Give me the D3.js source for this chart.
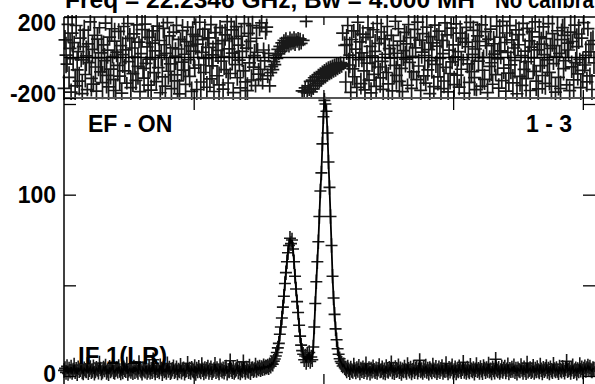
<!DOCTYPE html>
<html><head><meta charset="utf-8">
<script src="https://cdn.jsdelivr.net/npm/d3@7"></script>
<style>
body{margin:0;background:#fff}
svg{display:block;background:#fff}
text{font-family:"Liberation Sans",Arial,Helvetica,sans-serif;font-weight:bold;fill:#000}
</style>
</head><body>
<svg id="chart" width="595" height="384"></svg>
<script>
// ---------------- data ----------------
const ampLeft = [
3.1,4.2,2.0,5.3,1.4,3.8,2.6,4.9,1.9,3.3,
6.1,2.4,3.7,1.2,4.5,2.9,3.4,5.8,2.2,1.7,
4.0,3.2,2.7,6.4,1.8,3.5,4.7,2.3,3.0,5.1,
1.5,2.8,4.3,3.6,2.1,7.2,3.9,1.6,2.5,4.4,
3.3,5.5,2.0,3.1,1.3,4.8,2.7,3.6,6.0,2.4,
1.9,3.4,4.1,2.6,5.2,3.0,1.7,3.8,2.2,4.6,
3.5,2.9,6.6,1.4,3.2,4.0,2.5,3.7,1.8,5.0,
2.3,4.3,3.1,2.0,7.5,3.6,2.8,1.5,4.2,3.3,
2.6,5.4,1.9,3.0,4.7,2.1,3.9,2.4,9.0,3.2,
1.6,4.5,2.9,3.5,2.2,5.7,3.8,1.3,4.1,2.7,
3.4,2.0,6.8,3.1,4.4,1.8,2.5,3.7,5.1,2.3,
3.0,4.6,1.7,3.3,2.8,5.9,2.1,3.6,4.0,1.5,
2.9,3.5,7.0,2.4,3.8,1.9,4.3,3.2,2.6,5.3,
1.4,3.9,2.7,4.8,3.0,2.2,6.3,3.4,1.6,4.1,
2.5,3.7,5.0,2.0,3.3,4.5,1.8,2.9,3.6,6.5,
2.3,4.2,3.1,1.7,5.6,3.5,2.6,4.0,2.1,3.8,
4.9,1.5,3.2,2.8,8.4,3.4,2.4,4.6,1.9,3.0,
3.7,5.2,2.2,4.1,1.6,3.5,2.7,7.8,3.3,2.0,
4.4,3.1,2.5,5.5,1.8,3.9,4.2,2.9,3.6,6.1,
3.0,4.5,3.8,5.0,3.4,4.7,4.0,5.6,4.3,5.1
];
const ampLines = [
4.8,5.5,4.6,6.2,5.4,7.1,6.5,8.2,9.4,11,
13,15.5,18,23,27,32,38,44,51,57,
63,68,72,76,73,75,70,63,55,48,
41,35,28,22,17,14,12,9,11,7.5,
12,9,13,8,10.5,9,16,27,40,52,
63,74,88,102,112,128,143,152,150,146,
134,118,104,88,72,55,43,34,26,20,
15,12,9.5,8,7,5.5,6.2,4.6
];
const ampRight = [
3.9,2.7,5.0,3.4,1.8,4.4,3.1,2.5,6.0,3.6,
2.2,4.1,3.0,5.4,1.7,3.8,2.9,4.6,2.3,3.5,
6.7,2.0,3.3,4.2,1.5,3.9,2.6,5.1,3.2,2.4,
4.0,1.9,3.7,5.8,2.8,3.1,4.5,2.1,3.4,1.6,
5.3,3.0,2.5,4.3,3.6,7.3,2.2,3.8,1.8,4.7,
2.9,3.3,5.6,2.4,4.0,1.4,3.5,2.7,4.9,3.1,
2.0,6.3,3.7,2.6,4.4,1.7,3.2,5.0,2.3,3.9,
4.6,2.1,3.4,8.6,2.8,3.6,1.9,4.2,3.0,5.5,
2.5,3.8,1.5,4.1,3.3,2.2,6.1,3.5,2.7,4.8,
1.8,3.1,4.5,2.4,3.7,5.2,2.0,3.4,2.9,6.9,
3.2,1.6,4.3,2.6,3.9,5.7,2.1,3.0,4.6,1.7,
3.6,2.8,5.1,3.3,2.3,4.0,7.6,2.5,3.8,1.9,
4.4,3.1,2.2,5.9,3.5,2.7,4.2,1.5,3.4,6.4,
2.9,3.7,2.0,4.7,3.2,1.8,5.3,3.9,2.4,4.1,
3.0,6.6,2.6,3.5,1.6,4.5,3.3,2.1,9.2,3.6,
2.8,4.3,1.9,3.1,5.0,2.5,3.8,4.9,2.2,3.4,
6.2,1.7,3.7,2.9,4.4,3.0,5.6,2.3,3.9,1.5,
4.0,3.2,2.7,5.8,3.6,2.0,4.6,3.3,1.8,7.1,
2.6,3.5,4.2,2.4,3.0,5.4,1.9,3.8,2.8,4.7,
3.1,2.2,6.0,3.4,1.6,4.3,2.9,3.7,5.2,2.5,
3.9,1.7,4.5,3.2,2.3,6.5,3.6,2.7,4.1,3.0,
1.8,5.0,3.3,2.6,4.8,3.5,2.1,3.9,8.1,2.9,
3.4,4.4,2.0,3.7,5.7,2.4,3.1,4.0,1.5,3.6,
2.8,6.3,3.2,4.6,2.2,3.8,5.1,3.0,4.2,5.5,
3.6,4.9,3.3,2.7,4.1,3.8
];
const phaseLeft = [
-152,87,12,-33,164,-98,45,-171,120,-6,
73,-140,158,-61,29,-117,96,-12,-178,54,
135,-84,8,-159,67,-25,176,-103,40,-131,
110,-47,-166,91,-2,147,-71,23,-124,62,
-15,170,-88,36,-145,101,-57,142,5,-109,
81,-163,27,-39,129,-92,59,-176,14,153,
-66,38,-127,168,-20,94,-149,47,-80,117,
2,-113,161,-44,76,-169,19,138,-54,-102,
165,-29,52,-136,99,-8,-161,71,131,-75,
33,-119,155,-50,84,-174,11,-96,144,63,
-141,20,172,-68,107,-31,-154,48,125,-86,
7,159,-115,42,-180,90,-23,133,-62,16,
-133,78,150,-11,-93,57,-167,114,31,-52,
104,-158,66,-37,174,-121,25,88,-74,140,
-4,-147,97,50,-106,162,-41,13,-168,123,
69,-90,35,-135,148,-18,83,-156,4,112,
-60,177,-126,43,-79,136,22,-173,93,-35,
152,-100,61,-13,-150,105,30,-66,167,-120,
46,-164,119,-27,80,-111,157,-48,9,-139,
95,26,-82,146,-58,171,-107,37,-17,128
];
const phaseLines = [
150,-90,20,-140,-75,-45,-60,-20,-35,10,
-5,40,18,55,30,72,45,85,52,95,
60,80,55,98,65,88,70,100,62,90,
78,96,64,92,70,-165,85,-170,-150,178,
-175,-140,-160,-118,-170,-112,-155,-100,-140,-95,
-130,-85,-120,-78,-115,-70,-105,-62,-98,-55,
-90,-48,-82,-45,-78,-40,-70,-35,-65,-30,
-58,-28,-52,-25,-45,120,-30,60
];
const phaseRight = [
-121,64,158,-37,12,-172,89,-56,131,-95,
41,-148,174,-10,77,-129,23,115,-66,-160,
99,-28,146,-112,55,-175,8,137,-83,30,
-143,168,-47,70,-101,126,-19,-157,92,16,
-74,153,-130,44,-3,109,-165,60,-39,179,
-88,21,142,-118,81,-54,-169,34,124,-8,
67,-137,163,-24,98,-152,6,-71,139,48,
-109,175,-42,86,-162,27,118,-91,10,-127,
150,-61,39,-178,103,-15,72,-144,160,-34,
56,-96,130,-5,-154,85,19,-116,171,-49,
112,-170,36,-79,145,-22,62,-134,3,166,
-87,29,-146,120,-58,94,-11,-176,76,149,
-31,53,-123,173,-70,15,134,-99,42,-159,
107,-18,80,-141,161,-63,1,-108,128,58,
-173,91,-44,140,-26,-132,68,17,-85,155,
-7,-151,100,33,-114,178,-52,74,-166,121,
25,-77,157,-36,87,-125,47,-14,136,-179,
63,113,-93,9,-138,169,-59,31,-104,144,
-21,82,-163,51,127,-69,-2,176,-117,38,
-155,102,-40,66,-89,151,14,-128,93,-12,
167,-73,45,-142,118,-30,59,-171,5,132,
-98,20,-153,88,148,-55,109,-16,-135,71,
37,-164,125,-46,79,-110,160,-25,54,-81,
116,-9,-149,96,-64,172,-37,11,-120,143,
28,-91,65,-158,84,-27
];
const channelTicks = [128, 256, 384, 512];
const ampTicks = [0, 50, 100, 150];
const ampTickLabels = ["0", "", "100", ""];
const phaseTicks = [-200, 200];
const phaseTickLabels = ["-200", "200"];
const titleText = "Freq = 22.2346 GHz, Bw = 4.000 MH";
const titleText2 = "No calibra";
const baselineText = "EF - ON";
const scanText = "1 - 3";
const ifText = "IF 1(LR)";

// ---------------- build ----------------
const amplitude = ampLeft.concat(ampLines, ampRight);
const phase = phaseLeft.concat(phaseLines, phaseRight);

const W = 595, H = 384;
const L = 64, R = 595;
const pTop = 17, pBot = 98;
const aTop = 98, aBot = 384;

const svg = d3.select("#chart");
svg.append("rect").attr("width", W).attr("height", H).attr("fill", "#fff");

const x = d3.scaleLinear().domain([0, 524]).range([L, R]);
const yP = d3.scaleLinear().domain([-200, 200]).range([pBot, pTop]);
const yA = d3.scaleLinear().domain([0, 150]).range([376, 104]);

const ink = "#000";

// text behind data
svg.append("text").attr("x", 78).attr("y", 364).attr("font-size", 24).text(ifText);
svg.append("text").attr("x", 88).attr("y", 132).attr("font-size", 23).text(baselineText);
svg.append("text").attr("x", 572).attr("y", 132).attr("font-size", 23).attr("text-anchor", "end").text(scanText);

// phase zero line
svg.append("line").attr("x1", L).attr("x2", R).attr("y1", yP(0)).attr("y2", yP(0))
  .attr("stroke", ink).attr("stroke-width", 1.3);

// clip for phase panel
const defs = svg.append("defs");
defs.append("clipPath").attr("id", "clipP").append("rect")
  .attr("x", 0).attr("y", pTop - 2).attr("width", W).attr("height", pBot - pTop + 4);

// phase crosses
const gP = svg.append("g").attr("clip-path", "url(#clipP)");
const phaseErr = i => {
  const a = amplitude[i] !== undefined ? amplitude[i] : 3;
  return Math.max(30, Math.min(90, 57.3 * 3.6 / a));
};
let pathP = "";
phase.forEach((p, i) => {
  const cx = x(i), cy = yP(p);
  const e = yP(0) - yP(phaseErr(i));
  pathP += `M${cx - 6.5},${cy}H${cx + 6.5}M${cx},${cy - e}V${cy + e}`;
});
gP.append("path").attr("d", pathP).attr("stroke", ink).attr("stroke-width", 1.7)
  .attr("stroke-opacity", 0.9).attr("fill", "none");

// amplitude line + crosses
const line = d3.line().x((d, i) => x(i)).y(d => yA(d));
svg.append("path").datum(amplitude).attr("d", line)
  .attr("fill", "none").attr("stroke", ink).attr("stroke-width", 1.8);
let pathA = "";
amplitude.forEach((a, i) => {
  const cx = x(i), cy = yA(a);
  const e = yA(0) - yA(4);
  pathA += `M${cx - 6},${cy}H${cx + 6}M${cx},${cy - e}V${cy + e}`;
});
svg.append("path").attr("d", pathA).attr("stroke", ink).attr("stroke-width", 1.6)
  .attr("stroke-opacity", 0.9).attr("fill", "none");

// frames
const frame = svg.append("g").attr("stroke", ink).attr("stroke-width", 1.5).attr("fill", "none");
frame.append("line").attr("x1", L).attr("x2", R).attr("y1", pTop).attr("y2", pTop);
frame.append("line").attr("x1", L).attr("x2", R).attr("y1", pBot).attr("y2", pBot).attr("stroke", "#555").attr("stroke-width", 2);
frame.append("line").attr("x1", L).attr("x2", L).attr("y1", pTop).attr("y2", aBot);

// axes
const axP = d3.axisLeft(yP).tickValues(phaseTicks).tickSize(-12).tickPadding(8)
  .tickFormat((d, i) => phaseTickLabels[i]);
const gAxP = svg.append("g").attr("transform", `translate(${L},0)`).call(axP);
gAxP.select(".domain").remove();
gAxP.selectAll("text").attr("font-size", 23).attr("font-family", null)
  .attr("dy", d => d > 0 ? "0.6em" : "0.14em");

const axA = d3.axisLeft(yA).tickValues(ampTicks).tickSize(-12).tickPadding(8)
  .tickFormat((d, i) => ampTickLabels[i]);
const gAxA = svg.append("g").attr("transform", `translate(${L},0)`).call(axA);
gAxA.select(".domain").remove();
gAxA.selectAll("text").attr("font-size", 23).attr("font-family", null)
  .attr("dy", d => d === 0 ? "0.26em" : "0.36em");

const axAR = d3.axisRight(yA).tickValues(ampTicks).tickSize(-12).tickFormat("");
const gAxAR = svg.append("g").attr("transform", `translate(${R},0)`).call(axAR);
gAxAR.select(".domain").remove();

// channel ticks on both panels
const axPT = d3.axisTop(x).tickValues(channelTicks).tickSize(-8).tickFormat("");
svg.append("g").attr("transform", `translate(0,${pTop})`).call(axPT).select(".domain").remove();
const axPB = d3.axisBottom(x).tickValues(channelTicks).tickSize(-8).tickFormat("");
svg.append("g").attr("transform", `translate(0,${pBot})`).call(axPB).select(".domain").remove();
const axAT = d3.axisTop(x).tickValues(channelTicks).tickSize(-12).tickFormat("");
svg.append("g").attr("transform", `translate(0,${aTop})`).call(axAT).select(".domain").remove();
const axAB = d3.axisBottom(x).tickValues(channelTicks).tickSize(-10).tickFormat("");
svg.append("g").attr("transform", `translate(0,${aBot})`).call(axAB).select(".domain").remove();
svg.selectAll(".tick line").attr("stroke", ink).attr("stroke-width", 1.3);

// title
svg.append("text").attr("x", 65).attr("y", 8).attr("font-size", 24)
  .attr("textLength", 410).attr("lengthAdjust", "spacingAndGlyphs").text(titleText);
svg.append("text").attr("x", 495).attr("y", 8).attr("font-size", 24)
  .attr("textLength", 99).attr("lengthAdjust", "spacingAndGlyphs").text(titleText2);
</script>
</body></html>
